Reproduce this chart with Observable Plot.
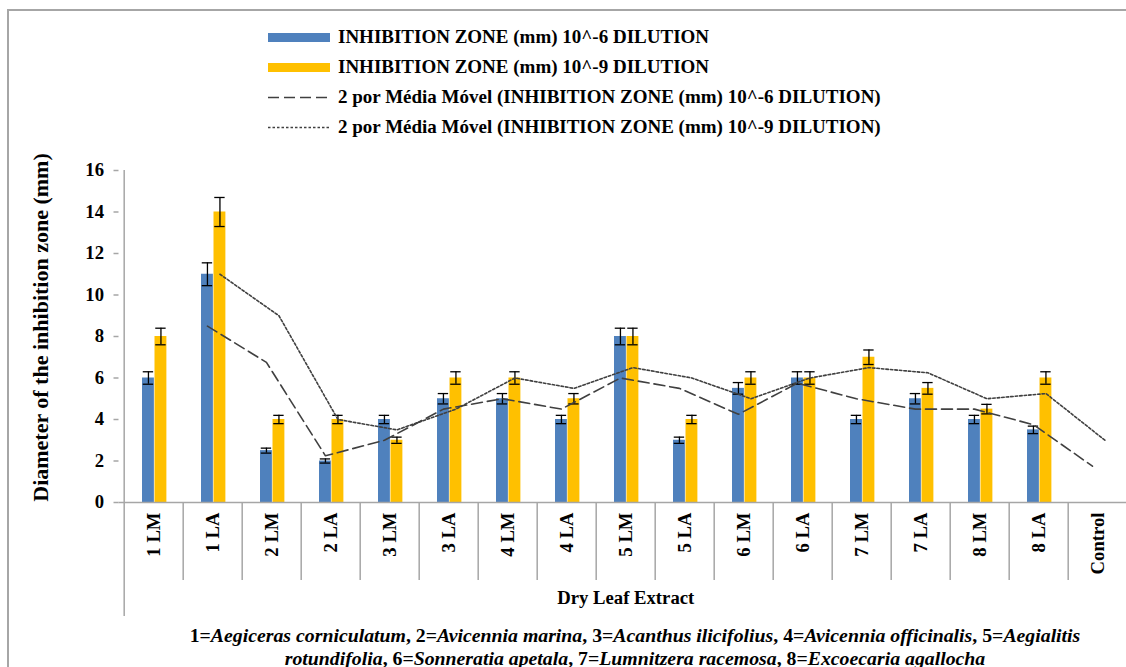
<!DOCTYPE html>
<html><head><meta charset="utf-8">
<script src="https://cdn.jsdelivr.net/npm/d3@7"></script>
<script src="https://cdn.jsdelivr.net/npm/@observablehq/plot@0.6"></script>
<style>
body{margin:0;width:1126px;height:667px;overflow:hidden;background:#fff;font-family:"Liberation Serif","Times New Roman",serif;position:relative;color:#000}
#border{position:absolute;left:7px;top:9px;width:1200px;height:700px;border-top:2px solid #a6a6a6;border-left:2px solid #a6a6a6}
#legend{position:absolute;left:268px;top:22px}
.row{height:30px;display:flex;align-items:center;font-weight:bold;font-size:19px;white-space:nowrap}
.sw{width:62px;height:9px;margin-right:8px;flex:none}
#chart{position:absolute;left:0;top:150px}
#caption{position:absolute;left:135px;width:1000px;top:624px;text-align:center;font-weight:bold;font-size:19.8px;line-height:23px}
#caption i{font-style:italic}
</style></head>
<body>
<div id="border"></div>
<div id="legend"></div>
<div id="chart"></div>
<div id="caption"></div>
<script>
const categories = ["1 LM","1 LA","2 LM","2 LA","3 LM","3 LA","4 LM","4 LA","5 LM","5 LA","6 LM","6 LA","7 LM","7 LA","8 LM","8 LA","Control"];
const zone6 = [6, 11, 2.5, 2, 4, 5, 5, 4, 8, 3, 5.5, 6, 4, 5, 4, 3.5, 0];
const zone9 = [8, 14, 4, 4, 3, 6, 6, 5, 8, 4, 6, 6, 7, 5.5, 4.5, 6, 0];
const err6 = [0.3, 0.55, 0.12, 0.1, 0.2, 0.25, 0.25, 0.2, 0.4, 0.15, 0.28, 0.3, 0.2, 0.25, 0.2, 0.18, 0];
const err9 = [0.4, 0.7, 0.2, 0.2, 0.15, 0.3, 0.3, 0.25, 0.4, 0.2, 0.3, 0.3, 0.35, 0.28, 0.23, 0.3, 0];
const ma6 = [null, 8.5, 6.75, 2.25, 3, 4.5, 5, 4.5, 6, 5.5, 4.25, 5.75, 5, 4.5, 4.5, 3.75, 1.75];
const ma9 = [null, 11, 9, 4, 3.5, 4.5, 6, 5.5, 6.5, 6, 5, 6, 6.5, 6.25, 5, 5.25, 3];
const yTicks = [0, 2, 4, 6, 8, 10, 12, 14, 16];
const legendLabels = [
  "INHIBITION ZONE (mm) 10^-6 DILUTION",
  "INHIBITION ZONE (mm) 10^-9 DILUTION",
  "2 por Média Móvel (INHIBITION ZONE (mm) 10^-6 DILUTION)",
  "2 por Média Móvel (INHIBITION ZONE (mm) 10^-9 DILUTION)"
];
const species = ["Aegiceras corniculatum","Avicennia marina","Acanthus ilicifolius","Avicennia officinalis","Aegialitis rotundifolia","Sonneratia apetala","Lumnitzera racemosa","Excoecaria agallocha"];
const yLabel = "Diameter of the inhibition zone (mm)";
const xLabel = "Dry Leaf Extract";

const C6 = "#4f81bd", C9 = "#ffc000", AX = "#a6a6a6", LN = "#404040";
const data = categories.map((c, i) => ({cat: c, v6: zone6[i], v9: zone9[i], e6: err6[i], e9: err9[i], m6: ma6[i], m9: ma9[i]}));
const d6 = data.filter(d => d.v6 > 0), d9 = data.filter(d => d.v9 > 0);

const W = 1126, H = 470, ML = 118.5, MR = -6;
const bw = (W - ML - MR) / categories.length;
const c6 = 24.25, c9 = 36.75, cap = 5.5;

const chart = Plot.plot({
  width: W, height: H,
  marginLeft: ML, marginRight: MR, marginTop: 20, marginBottom: 118,
  x: {type: "band", domain: categories, padding: 0, axis: null},
  y: {domain: [0, 16], axis: null},
  style: {fontFamily: '"Liberation Serif","Times New Roman",serif', background: "transparent", overflow: "visible", color: "#000"},
  marks: [
    Plot.barY(data, {x: "cat", y: "v6", fill: C6, insetLeft: 18, insetRight: bw - 30.5}),
    Plot.barY(data, {x: "cat", y: "v9", fill: C9, insetLeft: 30.5, insetRight: bw - 43}),
    Plot.ruleX(d6, {x: "cat", y1: d => d.v6 - d.e6, y2: d => d.v6 + d.e6, dx: c6 - bw / 2, stroke: "#000", strokeWidth: 1.3}),
    Plot.tickY(d6, {x: "cat", y: d => d.v6 + d.e6, insetLeft: c6 - cap, insetRight: bw - c6 - cap, stroke: "#000", strokeWidth: 1.3}),
    Plot.tickY(d6, {x: "cat", y: d => d.v6 - d.e6, insetLeft: c6 - cap, insetRight: bw - c6 - cap, stroke: "#000", strokeWidth: 1.3}),
    Plot.ruleX(d9, {x: "cat", y1: d => d.v9 - d.e9, y2: d => d.v9 + d.e9, dx: c9 - bw / 2, stroke: "#000", strokeWidth: 1.3}),
    Plot.tickY(d9, {x: "cat", y: d => d.v9 + d.e9, insetLeft: c9 - cap, insetRight: bw - c9 - cap, stroke: "#000", strokeWidth: 1.3}),
    Plot.tickY(d9, {x: "cat", y: d => d.v9 - d.e9, insetLeft: c9 - cap, insetRight: bw - c9 - cap, stroke: "#000", strokeWidth: 1.3}),
    Plot.line(data.filter(d => d.m6 != null), {x: "cat", y: "m6", dx: c6 - bw / 2, stroke: LN, strokeWidth: 1.6, strokeDasharray: "11,5"}),
    Plot.line(data.filter(d => d.m9 != null), {x: "cat", y: "m9", dx: c9 - bw / 2, stroke: LN, strokeWidth: 1.6, strokeDasharray: "2.5,2"}),
    Plot.ruleY([0], {stroke: AX, strokeWidth: 1.5}),
    Plot.ruleX([categories[0]], {x: d => d, dx: -bw / 2, insetBottom: -114, stroke: AX, strokeWidth: 1.5}),
    Plot.axisX(categories.slice(1), {tickSize: 78, tickFormat: () => "", dx: -bw / 2, stroke: AX, strokeWidth: 1.5, label: null}),
    Plot.axisX({tickSize: 0, tickPadding: 10, tickRotate: -90, fontSize: 18.7, fontWeight: "bold", label: null}),
    Plot.axisY(yTicks, {tickSize: 5, tickPadding: 10, fontSize: 18.7, fontWeight: "bold", stroke: AX, strokeWidth: 1.5, label: null}),
    Plot.text([yLabel], {frameAnchor: "left", textAnchor: "middle", rotate: -90, dx: -78, dy: -9, fontSize: 22, fontWeight: "bold"}),
    Plot.text([xLabel], {frameAnchor: "bottom", dy: 101, fontSize: 18.7, fontWeight: "bold"})
  ]
});
document.getElementById("chart").appendChild(chart);

// legend
const leg = document.getElementById("legend");
const swatches = [
  `<div class="sw" style="background:${C6}"></div>`,
  `<div class="sw" style="background:${C9}"></div>`,
  `<svg class="sw" width="62" height="9"><line x1="0" x2="62" y1="4.5" y2="4.5" stroke="${LN}" stroke-width="1.6" stroke-dasharray="11,5"/></svg>`,
  `<svg class="sw" width="62" height="9"><line x1="0" x2="62" y1="4.5" y2="4.5" stroke="${LN}" stroke-width="1.6" stroke-dasharray="2.5,2"/></svg>`
];
legendLabels.forEach((t, i) => {
  const r = document.createElement("div");
  r.className = "row";
  r.innerHTML = swatches[i] + `<span>${t}</span>`;
  leg.appendChild(r);
});

// caption
const parts = species.map((s, i) => `${i + 1}=<i>${s}</i>`);
let capHtml = parts.slice(0, 5).join(", ");
capHtml = capHtml.replace("Aegialitis rotundifolia", "Aegialitis<br>rotundifolia");
capHtml += ", " + parts.slice(5).join(", ");
document.getElementById("caption").innerHTML = capHtml;
</script>
</body></html>
